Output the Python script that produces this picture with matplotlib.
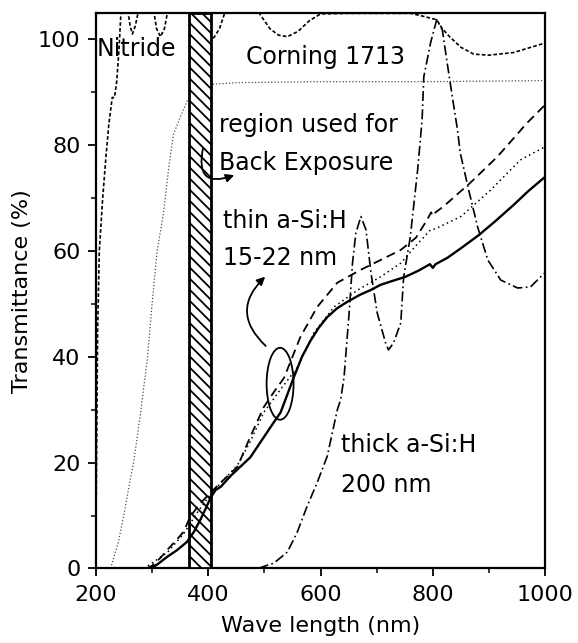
import matplotlib
matplotlib.use("Agg")
import matplotlib.pyplot as plt
from matplotlib.patches import Rectangle, Ellipse, FancyArrowPatch

# --- data (wavelength nm, transmittance %) ---
nitride_nm = [200, 201, 203, 206, 212, 218, 223, 229, 233, 237, 241, 245, 250, 256, 261,
              265, 270, 279, 290, 302, 308, 315, 322, 329, 345, 365, 385, 400, 405, 410, 420,
              431, 445, 465, 480, 493, 510, 525, 541, 560, 580, 600, 650, 700, 761, 785,
              807, 817, 830, 850, 873, 900, 944, 975, 1000]
nitride_t = [5, 20, 45, 60, 70, 78, 84, 89, 89, 92, 98, 106, 110, 106, 102.5,
             101, 102.5, 107, 110, 106, 102, 100.5, 102, 106, 110, 109, 104, 100.6, 100.1, 100.3, 102,
             105.5, 108, 108, 107, 104.6, 102, 100.8, 100.5, 101.5, 103.5, 104.8, 104.9, 104.9, 104.9, 104.3,
             103.7, 102, 100.5, 98.5, 97.2, 97, 97.5, 98.5, 99.3]

corning_nm = [226, 240, 249, 258, 267, 279, 292, 300, 309, 320, 330, 338, 351, 363, 380,
              405, 450, 600, 800, 1000]
corning_t = [0, 5, 9.7, 15, 20, 29, 40, 50, 60, 67, 76, 82, 85.5, 88.5, 90.5,
             91.5, 91.8, 92, 92, 92.2]

thin_solid_nm = [297, 310, 327, 345, 362, 375, 386, 395, 404, 413, 422, 440, 475, 511, 529,
                 552, 567, 582, 597, 612, 630, 648, 670, 689, 707, 730, 751, 775, 795, 800,
                 805, 826, 850, 882, 910, 944, 970, 1000]
thin_solid_t = [0, 0.8, 2.2, 3.5, 5, 7, 9.2, 11.2, 13.3, 14.8, 15.4, 17.5, 21, 26.7, 29.5,
                36, 40, 43, 45.5, 47.5, 49.2, 50.4, 51.7, 52.6, 53.6, 54.4, 55.1, 56.3, 57.5, 56.8,
                57.5, 58.7, 60.5, 63, 65.5, 68.7, 71.3, 74]

thin_dash_nm = [290, 300, 315, 327, 342, 356, 368, 385, 404, 425, 452, 475, 499, 518, 535,
                564, 594, 630, 671, 713, 743, 770, 790, 797, 800, 805, 819, 867, 915, 968, 1000]
thin_dash_t = [0, 0.5, 2, 3.5, 5.2, 6.9, 9.8, 12.2, 14.3, 16.5, 19.2, 24.9, 30.5, 33.5, 36,
               43.7, 49.4, 54, 56.4, 58.6, 60.2, 62.5, 65.9, 67.3, 66.6, 67.3, 68.4, 72.9, 77.8, 84.2, 87.6]

thin_dot_nm = [285, 300, 327, 356, 380, 404, 430, 452, 475, 499, 530, 559, 588, 624, 666,
               707, 743, 770, 796, 805, 850, 903, 956, 1000]
thin_dot_t = [0, 1, 3, 6.5, 10.5, 14, 17, 19.5, 24, 29.5, 34, 38, 44.5, 49.4, 52.6,
              55.1, 57.7, 61, 64, 64.2, 66.5, 71.5, 77.2, 79.7]

thick_nm = [490, 497, 517, 541, 558, 576, 594, 612, 621, 630, 636, 642, 651, 657, 663,
            672, 681, 690, 701, 716, 721, 730, 743, 748, 760, 773, 781, 784, 796, 807,
            817, 825, 835, 844, 849, 864, 880, 898, 921, 951, 974, 1000]
thick_t = [0, 0.3, 1, 3.1, 6.7, 11.7, 16.2, 21.2, 25.6, 30, 31.9, 36.2, 48.3, 57.7, 63.4,
           66.5, 64, 55.8, 48.3, 42.6, 41.3, 42.6, 46.4, 55, 62.7, 75.3, 84.8, 92.9, 99.3, 103.7,
           101.8, 96, 89, 82.9, 78.5, 71.5, 64.5, 58.3, 54.5, 53, 53.2, 55.9]

back_exposure = (365, 405)

x_ticks = [200, 400, 600, 800, 1000]
y_ticks = [0, 20, 40, 60, 80, 100]

plt.rcParams['hatch.linewidth'] = 1.3

fig = plt.figure(figsize=(5.78, 6.43), dpi=100)
ax = fig.add_axes([0.166, 0.116, 0.777, 0.864])

# substrate curves sit under the hatched band, the a-Si:H curves on top of it
ax.plot(nitride_nm, nitride_t, color='black', lw=1.2, ls=(0, (2.2, 1.3)), zorder=2)
ax.plot(corning_nm, corning_t, color='0.3', lw=0.9, ls=(0, (1, 1.6)), zorder=2)
ax.add_patch(Rectangle((back_exposure[0], 0), back_exposure[1] - back_exposure[0], 105,
                       facecolor='white', edgecolor='black', lw=2, hatch='\\\\\\', zorder=3))
ax.plot(thin_solid_nm, thin_solid_t, color='black', lw=1.7, ls='-', zorder=4)
ax.plot(thin_dash_nm, thin_dash_t, color='black', lw=1.3, ls=(0, (5, 3)), zorder=4)
ax.plot(thin_dot_nm, thin_dot_t, color='black', lw=1.1, ls=(0, (1, 2.2)), zorder=4)
ax.plot(thick_nm, thick_t, color='black', lw=1.2, ls=(0, (6, 2, 1, 2)), zorder=4)

ax.add_patch(Ellipse((528, 34.9), 48, 13.6, fill=False, edgecolor='black', lw=1.3, zorder=5))

ax.add_patch(FancyArrowPatch((506, 41.7), (505, 55.5), connectionstyle='arc3,rad=-0.55',
                             arrowstyle='-|>', mutation_scale=12, lw=1.3, color='black', zorder=5))
ax.add_patch(FancyArrowPatch((392, 80), (451, 74.5), connectionstyle='arc3,rad=0.95',
                             arrowstyle='-|>', mutation_scale=12, lw=1.3, color='black', zorder=5))

fs = 17
ax.text(202, 98.2, 'Nitride', fontsize=fs, ha='left', va='center', zorder=6)
ax.text(609, 96.7, 'Corning 1713', fontsize=fs, ha='center', va='center')
ax.text(419, 83.8, 'region used for', fontsize=fs, ha='left', va='center')
ax.text(419, 76.6, 'Back Exposure', fontsize=fs, ha='left', va='center')
ax.text(427, 65.7, 'thin a-Si:H', fontsize=fs, ha='left', va='center')
ax.text(427, 58.7, '15-22 nm', fontsize=fs, ha='left', va='center')
ax.text(636, 23.3, 'thick a-Si:H', fontsize=fs, ha='left', va='center')
ax.text(636, 15.8, '200 nm', fontsize=fs, ha='left', va='center')

ax.set_xlim(200, 1000)
ax.set_ylim(0, 105)
ax.set_xticks(x_ticks)
ax.set_yticks(y_ticks)
ax.set_xticks(range(300, 1000, 200), minor=True)
ax.set_yticks(range(10, 101, 20), minor=True)
ax.tick_params(which='major', length=6, width=1.3, labelsize=16, direction='out')
ax.tick_params(axis='x', which='major', pad=6)
ax.tick_params(axis='y', which='major', pad=5)
ax.tick_params(which='minor', length=3.5, width=1.1, direction='out')
for s in ax.spines.values():
    s.set_linewidth(1.6)

ax.set_xlabel('Wave length (nm)', fontsize=16, labelpad=8)
ax.set_ylabel('Transmittance (%)', fontsize=16, labelpad=4)

fig.savefig('out.png', dpi=100)
